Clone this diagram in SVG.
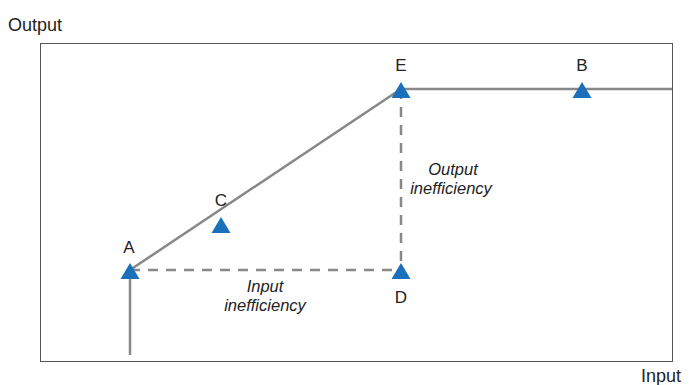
<svg xmlns="http://www.w3.org/2000/svg" width="689" height="385" viewBox="0 0 689 385">
<style>
text{font-family:"Liberation Sans",Arial,sans-serif;fill:#222;font-size:17px}
.ax{font-size:18px}
.lbl{text-anchor:middle}
.it{font-style:italic;font-size:16.5px}
.ln{stroke:#888;stroke-width:2.5;fill:none}
.dash{stroke:#888;stroke-width:2.5;fill:none;stroke-dasharray:10 8}
.tri{fill:#1a70ba}
</style>
<defs><path id="tri" d="M0,-8 L9.5,8 L-9.5,8 Z"/></defs>
<rect x="40.5" y="43.5" width="632" height="318" fill="none" stroke="#555" stroke-width="1"/>
<text class="ax" x="8" y="31">Output</text>
<text class="ax" x="641" y="382">Input</text>
<g id="connectors">
<path class="ln" d="M130,355 L130,270 L401,89 L672,89"/>
<path class="dash" d="M130,270 L401,270"/>
<path class="dash" d="M401,89 L401,270"/>
</g>
<text class="it lbl" x="453" y="175">Output</text>
<text class="it lbl" x="451" y="194">inefficiency</text>
<text class="it lbl" x="265" y="292">Input</text>
<text class="it lbl" x="265" y="311">inefficiency</text>
<g id="A"><use href="#tri" class="tri" x="130" y="271"/><text class="lbl" x="129" y="253">A</text></g>
<g id="C"><use href="#tri" class="tri" x="221" y="225"/><text class="lbl" x="221" y="206">C</text></g>
<g id="E"><use href="#tri" class="tri" x="401" y="90"/><text class="lbl" x="401" y="71">E</text></g>
<g id="B"><use href="#tri" class="tri" x="582" y="90"/><text class="lbl" x="582" y="71">B</text></g>
<g id="D"><use href="#tri" class="tri" x="401" y="271"/><text class="lbl" x="401" y="303">D</text></g>
</svg>
